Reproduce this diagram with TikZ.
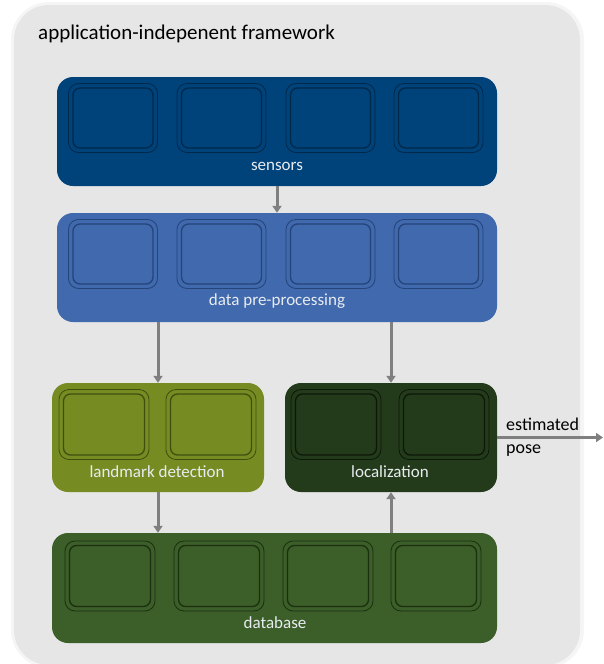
\documentclass[tikz,border=0pt]{standalone}
\usepackage{fontspec}
\setmainfont{Carlito}
\usetikzlibrary{arrows.meta}
\definecolor{frameC}{HTML}{E6E6E6}
\definecolor{senC}{HTML}{00437A}
\definecolor{senD}{HTML}{00284A}
\definecolor{preC}{HTML}{4169AD}
\definecolor{preD}{HTML}{24447A}
\definecolor{lanC}{HTML}{768C23}
\definecolor{lanD}{HTML}{3F4F0E}
\definecolor{locC}{HTML}{243B1B}
\definecolor{locD}{HTML}{0C1808}
\definecolor{dbC}{HTML}{3C5E29}
\definecolor{dbD}{HTML}{1A3010}
\definecolor{arrC}{HTML}{7F7F7F}
\definecolor{labC}{HTML}{E8ECF0}
\tikzset{
  group/.style={fill=#1, draw=none, rounded corners=16pt, minimum height=109pt, inner sep=0pt},
  cell/.style={fill=#1C, draw=#1D, line width=0.8pt,
     rounded corners=10pt, minimum width=89pt, minimum height=69pt, inner sep=0pt,
     path picture={\draw[#1D, line width=1.3pt, rounded corners=7pt]
        ([shift={(4.5pt,4.5pt)}]path picture bounding box.south west) rectangle
        ([shift={(-4.5pt,-4.5pt)}]path picture bounding box.north east);}},
  glabel/.style={text=labC, font=\fontsize{17}{19}\selectfont, inner sep=0pt},
  arr/.style={draw=arrC, line width=3pt, -{Triangle[width=9pt,length=7pt]}}
}
\begin{document}
\begin{tikzpicture}[x=1pt,y=-1pt]
\useasboundingbox (0,0) rectangle (603,664);
% outer frame
\fill[gray!8, rounded corners=38pt] (11,2) rectangle (584,668);
\fill[frameC, rounded corners=35pt] (14,5) rectangle (580,665);
\node[anchor=west, inner sep=0pt, font=\fontsize{21}{24}\selectfont] (title) at (38,34) {application-indepenent framework};

% sensors
\node[group=senC, minimum width=440pt] (sensors) at (277,131.5) {};
\foreach \x [count=\i] in {113,221.5,330.5,438.5}
  \node[cell=sen] (s\i) at (\x,118) {};
\node[glabel] (senlab) at (277,166) {sensors};

% data pre-processing
\node[group=preC, minimum width=440pt] (pre) at (277,267.5) {};
\foreach \x [count=\i] in {113,221.5,330.5,438.5}
  \node[cell=pre] (p\i) at (\x,254) {};
\node[glabel] (prelab) at (277,301) {data pre-processing};

% landmark detection
\node[group=lanC, minimum width=212pt] (land) at (158,437.5) {};
\foreach \x [count=\i] in {104,211}
  \node[cell=lan, minimum width=90pt, minimum height=70pt] (l\i) at (\x,424.5) {};
\node[glabel] (lanlab) at (157,472) {landmark detection};

% localization
\node[group=locC, minimum width=212pt] (loc) at (391,437.5) {};
\foreach \x [count=\i] in {336,444}
  \node[cell=loc, minimum width=90pt, minimum height=70pt] (c\i) at (\x,424.5) {};
\node[glabel] (loclab) at (390,472) {localization};

% database
\node[group=dbC, minimum width=445pt, minimum height=110pt] (db) at (274.5,588) {};
\foreach \x [count=\i] in {110,219,328,436}
  \node[cell=db, minimum width=90pt, minimum height=70pt] (d\i) at (\x,576) {};
\node[glabel] (dblab) at (275,623) {database};

% connectors
\draw[arr] (sensors.south) -- (pre.north);
\draw[arr] (land.north |- pre.south) -- (land.north);
\draw[arr] (loc.north |- pre.south) -- (loc.north);
\draw[arr] (land.south) -- (land.south |- db.north);
\draw[arr] (loc.south |- db.north) -- (loc.south);
\coordinate (out) at (603,437.5);
\draw[arr] (loc.east) -- (out);
\node[anchor=west, align=left, inner sep=0pt, font=\fontsize{18}{23}\selectfont] (est) at (506,437) {estimated\\pose};
\end{tikzpicture}
\end{document}
